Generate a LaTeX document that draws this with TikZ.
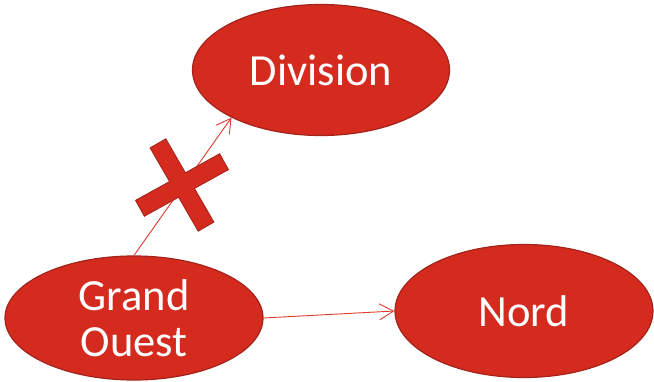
\documentclass[tikz,border=0pt]{standalone}
\usepackage{fontspec}
\setmainfont{Carlito}
\usetikzlibrary{shapes.geometric,arrows.meta}
\definecolor{bubble}{HTML}{D52B1F}
\definecolor{rim}{HTML}{A3221A}
\definecolor{wire}{HTML}{DE3A2E}
\tikzset{
  bubble/.style={ellipse, fill=bubble, draw=rim, line width=1.2pt, inner sep=0pt,
    text=white, align=center, font=\fontsize{44.5}{46}\selectfont},
  link/.style={draw=wire, line width=0.9pt, -{Straight Barb[length=14pt,width=16pt,line width=0.9pt]}},
  crossbar/.style={rectangle, inner sep=0pt, minimum width=95pt, minimum height=17pt},
}
\begin{document}
\begin{tikzpicture}[x=1pt,y=-1pt]
\useasboundingbox (0,0) rectangle (654,382);
\node[bubble, minimum width=257pt, minimum height=131pt] (div) at (321,70) {Division};
\node[bubble, minimum width=258pt, minimum height=124pt] (go) at (134,318) {Grand\\Ouest};
\node[bubble, minimum width=258pt, minimum height=133pt] (nord) at (524,311) {Nord};
\draw[link] (go.north) -- (div.208);
\draw[link] (go.east) -- (nord.west);
% cross
\node[crossbar, rotate=-60, draw=rim, line width=2pt] (xa) at (182,185) {};
\node[crossbar, rotate=29, draw=rim, line width=2pt] (xb) at (182,185) {};
\node[crossbar, rotate=-60, fill=bubble] (xc) at (182,185) {};
\node[crossbar, rotate=29, fill=bubble] (xd) at (182,185) {};
\end{tikzpicture}
\end{document}
